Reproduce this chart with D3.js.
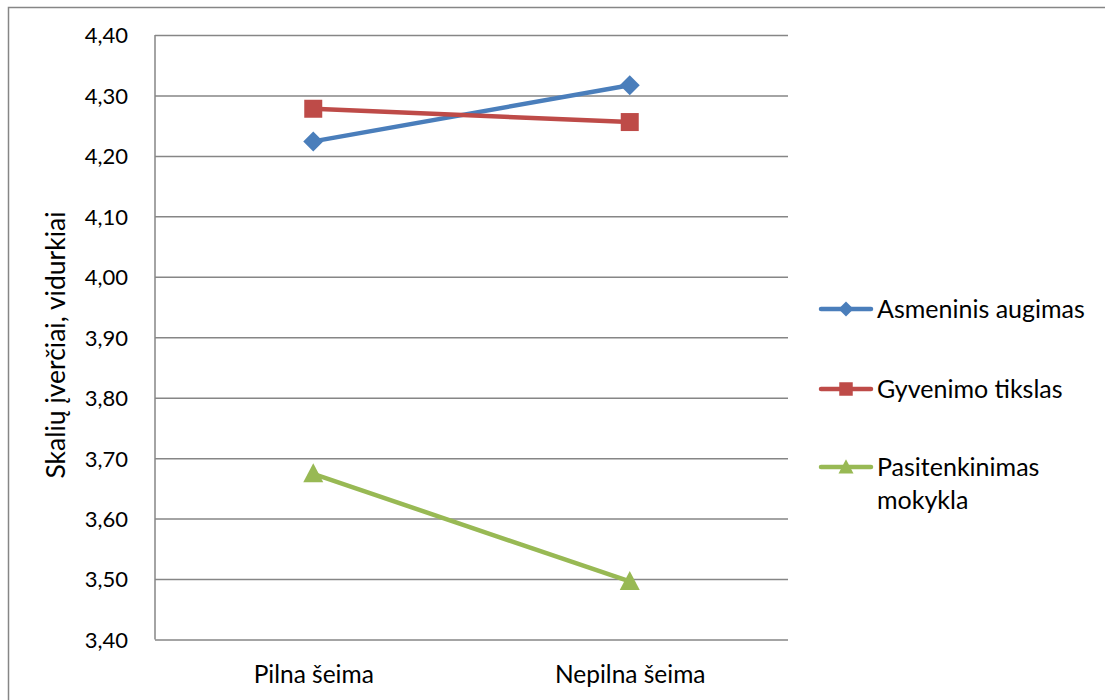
<!DOCTYPE html>
<html><head><meta charset="utf-8">
<script src="https://cdn.jsdelivr.net/npm/d3@7"></script>
<style>body{margin:0;background:#fff}svg{display:block}text{font-family:Lato,"Open Sans",sans-serif;fill:#000}</style>
</head><body>
<svg id="c" width="1105" height="700"></svg>
<script>
const categories = ["Pilna šeima", "Nepilna šeima"];
const seriesNames = ["Asmeninis augimas", "Gyvenimo tikslas", "Pasitenkinimas mokykla"];
const asmeninis = [4.224, 4.317];
const gyvenimo = [4.278, 4.256];
const pasitenkinimas = [3.674, 3.496];
const yTicks = [3.40, 3.50, 3.60, 3.70, 3.80, 3.90, 4.00, 4.10, 4.20, 4.30, 4.40];
const yTitle = "Skalių įverčiai, vidurkiai";

const colors = ["#4A7EBB", "#BE4B48", "#98B954"];
const series = [asmeninis, gyvenimo, pasitenkinimas];

function marker(k, s){ // s = half-size
  if(k===0) return `M0,${-s}L${s},0L0,${s}L${-s},0Z`;
  if(k===1) return `M${-s*0.9},${-s*0.9}H${s*0.9}V${s*0.9}H${-s*0.9}Z`;
  return `M0,${-s*1.05}L${s},${s*0.85}L${-s},${s*0.85}Z`;
}

const svg = d3.select("#c");
svg.append("rect").attr("x",8.5).attr("y",7.5).attr("width",1110).attr("height",720)
  .attr("fill","none").attr("stroke","#868686").attr("stroke-width",1.5);

const L=155, R=788, T=35, B=639.5;
const x = d3.scalePoint().domain(categories).range([L,R]).padding(0.5);
const y = d3.scaleLinear().domain([3.4,4.4]).range([B,T]);

const g = svg.append("g");
const yAxis = g.append("g").attr("transform",`translate(${L},0)`)
  .call(d3.axisLeft(y).tickValues(yTicks).tickSize(-(R-L)).tickFormat(d=>d3.format(".2f")(d).replace(".",",")));
yAxis.select(".domain").remove();
yAxis.selectAll(".tick line").attr("stroke","#868686").attr("stroke-width",1.5);
yAxis.selectAll(".tick text").attr("x",-27).attr("dy","0.36em").style("font-size","22px").attr("fill","#000");
g.append("line").attr("x1",L).attr("x2",L).attr("y1",T).attr("y2",B).attr("stroke","#868686").attr("stroke-width",1.5);

const xAxis = g.append("g").attr("transform",`translate(0,${B})`)
  .call(d3.axisBottom(x).tickSize(0));
xAxis.select(".domain").remove();
xAxis.selectAll(".tick text").attr("y",43).attr("dy",0).style("font-size","24.5px").attr("fill","#000");

svg.append("text").attr("transform","translate(65,345) rotate(-90)").attr("text-anchor","middle")
  .style("font-size","26.5px").text(yTitle);

const line = d3.line().x((d,i)=>x(categories[i])).y(d=>y(d));
series.forEach((s,k)=>{
  svg.append("path").attr("d",line(s)).attr("fill","none").attr("stroke",colors[k]).attr("stroke-width",4.5);
  svg.selectAll(null).data(s).enter().append("path")
    .attr("d",marker(k,10))
    .attr("transform",(d,i)=>`translate(${x(categories[i])},${y(d)})`)
    .attr("fill",colors[k]);
});

// legend
const legY=[309,389,467];
seriesNames.forEach((n,k)=>{
  const lg=svg.append("g").attr("transform",`translate(0,${legY[k]})`);
  lg.append("line").attr("x1",821).attr("x2",871).attr("stroke",colors[k]).attr("stroke-width",4.5).attr("stroke-linecap","round");
  lg.append("path").attr("d",marker(k,7.5)).attr("transform","translate(846,0)").attr("fill",colors[k]);
  const t=lg.append("text").attr("x",877).attr("y",0).attr("dy","0.36em").style("font-size","25px");
  if(k===2){
    t.append("tspan").attr("x",877).text("Pasitenkinimas");
    t.append("tspan").attr("x",877).attr("dy",33).text("mokykla");
  } else t.text(n);
});
</script>
</body></html>
